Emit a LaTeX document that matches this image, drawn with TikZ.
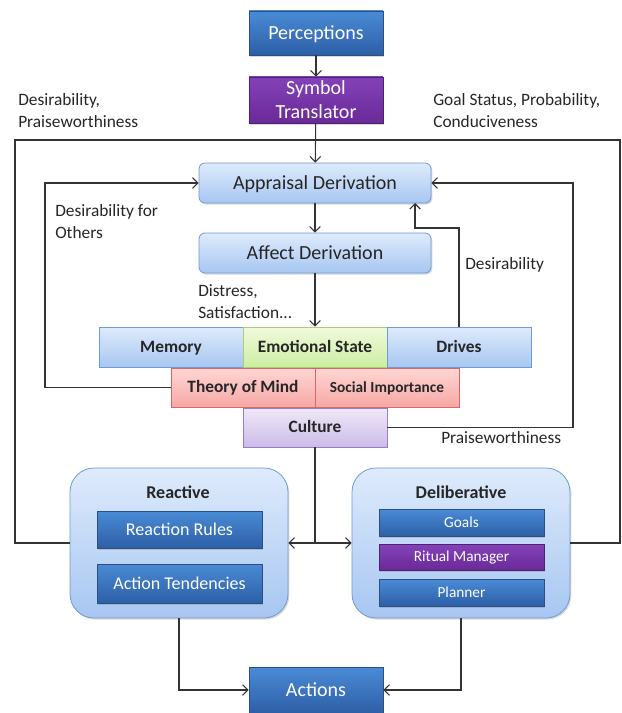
\documentclass[tikz,border=0pt]{standalone}
\usepackage{fontspec}
\setmainfont{Carlito}
\usetikzlibrary{arrows.meta,shadows}

\definecolor{linegray}{HTML}{333333}
\definecolor{textgray}{HTML}{262626}
\definecolor{bluetop}{HTML}{4A8BD6}
\definecolor{bluebot}{HTML}{2D5FA6}
\definecolor{blueline}{HTML}{2A4F85}
\definecolor{purptop}{HTML}{8442B8}
\definecolor{purpbot}{HTML}{6A2A98}
\definecolor{purpline}{HTML}{4F1F72}
\definecolor{lbluetop}{HTML}{DEEBFC}
\definecolor{lbluebot}{HTML}{A7C6F1}
\definecolor{lblueline}{HTML}{6F9AD6}
\definecolor{greentop}{HTML}{F0FADC}
\definecolor{greenbot}{HTML}{CDEEA2}
\definecolor{greenline}{HTML}{A9CF72}
\definecolor{pinktop}{HTML}{FFD6D4}
\definecolor{pinkbot}{HTML}{F6A8A5}
\definecolor{pinkline}{HTML}{CF6A66}
\definecolor{lavtop}{HTML}{EFE9F8}
\definecolor{lavbot}{HTML}{CCBBE8}
\definecolor{lavline}{HTML}{987FC4}

\begin{document}
\begin{tikzpicture}[x=0.75pt,y=-0.75pt,every node/.style={text=textgray,inner sep=0pt},
  boxshadow/.style={drop shadow={shadow xshift=1pt,shadow yshift=-1.2pt,opacity=0.3}},
  oneline/.style={text height=0.85em,text depth=0.22em},
  dark box/.style={rectangle,draw=blueline,line width=0.5pt,top color=bluetop,bottom color=bluebot,text=white,align=center,node font=\fontsize{15}{18}\selectfont,boxshadow},
  purple box/.style={dark box,draw=purpline,top color=purptop,bottom color=purpbot},
  derive box/.style={rectangle,rounded corners=4.5pt,draw=lblueline,line width=0.6pt,top color=lbluetop,bottom color=lbluebot,minimum width=174pt,minimum height=30pt,node font=\fontsize{15}{18}\selectfont,oneline,boxshadow},
  state box/.style={rectangle,draw=lblueline,line width=0.6pt,top color=lbluetop,bottom color=lbluebot,minimum width=108pt,minimum height=30pt,node font=\bfseries\fontsize{13}{15}\selectfont,oneline},
  layer box/.style={rectangle,rounded corners=18pt,draw=lblueline,line width=0.6pt,top color=lbluetop,bottom color=lbluebot,minimum width=163.5pt,minimum height=112.5pt,boxshadow},
  inner box/.style={dark box,minimum width=123.75pt,oneline},
  label/.style={anchor=west,align=left,font=\fontsize{13}{16.5}\selectfont},
  conn/.style={draw=linegray,line width=0.8pt,-{Straight Barb[length=4pt,width=8pt]}},
  plain/.style={draw=linegray,line width=0.8pt}]
  \useasboundingbox (0,0) rectangle (621,713);

  \node[dark box,oneline,minimum width=100.5pt,minimum height=33pt] (percep) at (316,33) {Perceptions};
  \node[purple box,minimum width=100.5pt,minimum height=34.5pt] (symb) at (316,100) {Symbol\\Translator};
  \node[derive box] (apprais) at (315,183) {Appraisal Derivation};
  \node[derive box] (affect) at (315,253) {Affect Derivation};

  \node[state box] (memory) at (171,347) {Memory};
  \node[state box,draw=greenline,top color=greentop,bottom color=greenbot] (emot) at (315,347) {Emotional State};
  \node[state box] (drives) at (459,347) {Drives};
  \node[state box,draw=pinkline,top color=pinktop,bottom color=pinkbot,minimum height=29.25pt] (tom) at (243,387.5) {Theory of Mind};
  \node[state box,draw=pinkline,top color=pinktop,bottom color=pinkbot,minimum height=29.25pt,node font=\bfseries\fontsize{11.5}{14}\selectfont] (social) at (387,387.5) {Social Importance};
  \node[state box,draw=lavline,top color=lavtop,bottom color=lavbot,minimum height=29.25pt] (culture) at (315,427.5) {Culture};

  \node[layer box] (reactive) at (179,543) {};
  \node[layer box] (deliber) at (461,543) {};
  \node[oneline,node font=\bfseries\fontsize{13.5}{15}\selectfont] (reacttitle) at (178,493) {Reactive};
  \node[oneline,node font=\bfseries\fontsize{13.5}{15}\selectfont] (delibtitle) at (461,493) {Deliberative};
  \node[inner box,minimum height=27.75pt,node font=\fontsize{13.5}{15}\selectfont] (rules) at (179.5,529.5) {Reaction Rules};
  \node[inner box,minimum height=29.25pt,node font=\fontsize{13.5}{15}\selectfont] (tend) at (179.5,583.5) {Action Tendencies};
  \node[inner box,minimum height=20.25pt,node font=\fontsize{11.5}{13}\selectfont] (goals) at (461.5,522.5) {Goals};
  \node[purple box,oneline,minimum width=123.75pt,minimum height=19.5pt,node font=\fontsize{11.5}{13}\selectfont] (ritual) at (461.5,557) {Ritual Manager};
  \node[inner box,minimum height=20.25pt,node font=\fontsize{11.5}{13}\selectfont] (planner) at (461.5,592.5) {Planner};

  \node[dark box,oneline,minimum width=100.5pt,minimum height=34.5pt] (actions) at (316,690) {Actions};

  % texts on the lines
  \node[label] (desirpraise) at (18,111) {Desirability,\\Praiseworthiness};
  \node[label] (goalstatus) at (433,111) {Goal Status, Probability,\\Conduciveness};
  \node[label] (desirothers) at (55,221.5) {Desirability for\\Others};
  \node[label] (desironly) at (465,265) {Desirability};
  \node[label] (distress) at (198,301.5) {Distress,\\Satisfaction...};
  \node[label] (praiseonly) at (441,438) {Praiseworthiness};

  \coordinate (frametl) at (15,140);
  \coordinate (frametr) at (620,140);
  \coordinate (tomturn) at (45,387.5);
  \coordinate (cultturn) at (573,427.5);
  \coordinate (drvturn) at (459,228);
  \coordinate (desirin) at (415,203);
  \coordinate (split) at (315,543);

  % frame round the whole agent
  \draw[plain] (reactive.west) -| (frametl) -- (frametr) |- (deliber.east);

  \path[conn]
    (percep) edge (symb)
    (symb) edge (apprais)
    (apprais) edge (affect)
    (affect) edge (emot);
  \draw[conn] (tom.west) -- (tomturn) |- (apprais.west);
  \draw[conn] (culture.east) -- (cultturn) |- (apprais.east);
  \draw[conn] (drives.north) -- (drvturn) -| (desirin);
  \draw[plain] (culture.south) -- (split);
  \draw[conn] (split) -- (reactive.east);
  \draw[conn] (split) -- (deliber.west);
  \draw[conn] (reactive.south) |- (actions.west);
  \draw[conn] (deliber.south) |- (actions.east);
\end{tikzpicture}
\end{document}
